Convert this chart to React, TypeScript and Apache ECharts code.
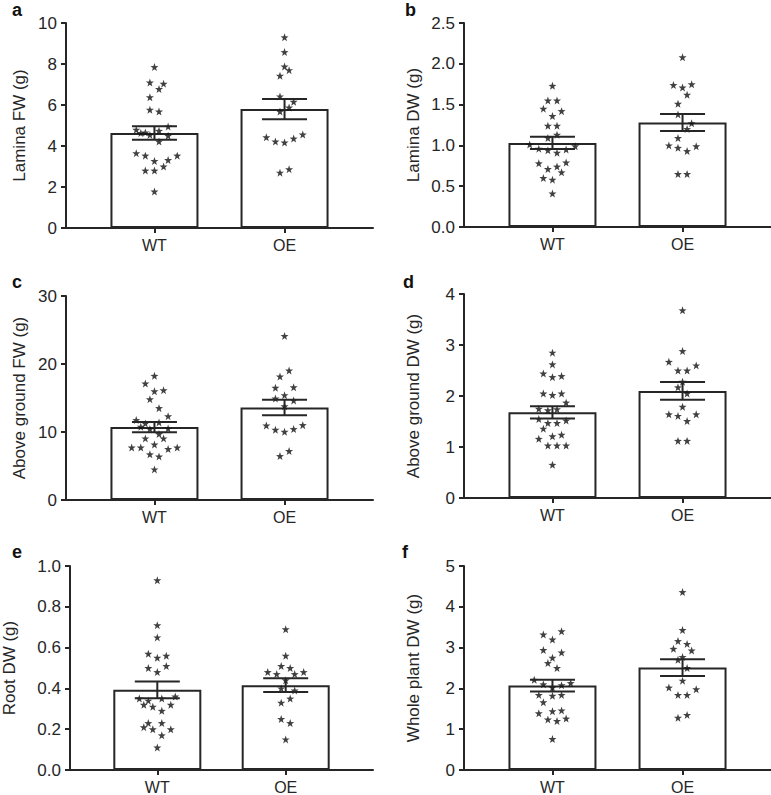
import React, { useEffect, useRef } from "react";
import * as echarts from "echarts";

const groups = ["WT", "OE"];

// Panel a: Lamina FW (g)
const aMean = [4.63, 5.8];
const aSem = [0.33, 0.49];
const aWT = [7.85, 7.1, 7.04, 6.78, 6.38, 5.77, 5.68, 4.79, 4.63, 4.66, 4.54, 4.74, 4.95, 4.5, 4.22, 3.65, 3.53, 3.27, 3.32, 3.53, 2.8, 2.8, 3.0, 1.78];
const aWTx = [0, -0.035, 0.07, 0.035, -0.035, -0.035, 0.035, -0.14, -0.105, -0.07, -0.035, 0.035, 0.105, 0.105, 0.035, -0.14, -0.07, 0, 0.105, 0.175, -0.07, 0, 0.07, 0];
const aOE = [9.3, 8.58, 7.88, 7.43, 7.7, 6.42, 6.16, 5.68, 5.88, 4.43, 4.22, 4.17, 4.36, 4.56, 2.7, 2.87];
const aOEx = [0, 0, 0, -0.035, 0.035, -0.035, 0.07, -0.035, 0.035, -0.14, -0.07, 0, 0.07, 0.14, -0.035, 0.035];

// Panel b: Lamina DW (g)
const bMean = [1.03, 1.28];
const bSem = [0.075, 0.105];
const bWT = [1.73, 1.55, 1.55, 1.45, 1.42, 1.36, 1.24, 1.24, 1.09, 1.13, 1.01, 0.96, 0.94, 0.91, 0.95, 0.99, 0.78, 0.71, 0.74, 0.79, 0.67, 0.6, 0.58, 0.41];
const bWTx = [0, -0.035, 0.035, -0.07, 0.07, 0, -0.035, 0.035, -0.035, 0.035, -0.175, -0.105, -0.035, 0.035, 0.105, 0.175, -0.105, -0.035, 0.035, 0.105, 0.07, -0.07, 0, 0];
const bOE = [2.08, 1.74, 1.71, 1.75, 1.62, 1.51, 1.38, 1.27, 1.2, 1.09, 1.0, 0.97, 0.93, 0.99, 0.65, 0.65];
const bOEx = [0, -0.07, 0, 0.07, 0.035, -0.035, -0.035, 0.07, 0.035, -0.035, -0.105, -0.035, 0.035, 0.105, -0.035, 0.035];

// Panel c: Above ground FW (g)
const cMean = [10.72, 13.61];
const cSem = [0.76, 1.15];
const cWT = [18.26, 17.13, 16.0, 16.15, 14.83, 13.51, 12.33, 11.75, 11.26, 10.77, 10.43, 11.41, 10.52, 9.69, 9.06, 9.06, 7.73, 7.73, 8.17, 7.49, 7.73, 6.71, 6.41, 4.5];
const cWTx = [0, -0.07, 0, 0.07, -0.035, 0.035, 0.105, -0.14, -0.07, -0.105, -0.035, 0.035, 0.105, 0.035, -0.07, 0.07, -0.175, -0.105, 0, 0.105, 0.175, -0.035, 0.035, 0];
const cOE = [24.13, 18.16, 19.04, 16.5, 16.59, 15.42, 14.93, 14.64, 13.8, 10.96, 10.33, 10.03, 10.43, 11.01, 6.46, 7.2];
const cOEx = [0, -0.035, 0.035, -0.07, 0.07, 0, -0.07, 0.07, 0, -0.14, -0.07, 0, 0.07, 0.14, -0.035, 0.035];

// Panel d: Above ground DW (g)
const dMean = [1.68, 2.1];
const dSem = [0.12, 0.175];
const dWT = [2.85, 2.62, 2.44, 2.37, 2.39, 2.05, 2.02, 2.05, 1.87, 1.75, 1.72, 1.74, 1.55, 1.47, 1.47, 1.52, 1.36, 1.16, 1.21, 1.24, 1.03, 1.03, 1.03, 0.65];
const dWTx = [0, 0, -0.07, 0, 0.07, -0.07, 0, 0.07, 0.105, -0.105, -0.035, 0.035, -0.105, -0.035, 0.035, 0.105, -0.07, -0.105, 0, 0.07, -0.035, 0.035, 0.105, 0];
const dOE = [3.68, 2.88, 2.67, 2.5, 2.5, 2.6, 2.28, 2.17, 2.05, 1.79, 1.64, 1.61, 1.51, 1.64, 1.12, 1.12];
const dOEx = [0, 0, -0.105, -0.035, 0.035, 0.105, 0, -0.035, 0.035, 0, -0.105, -0.035, 0.035, 0.105, -0.035, 0.035];

// Panel e: Root DW (g)
const eMean = [0.393, 0.416];
const eSem = [0.041, 0.034];
const eWT = [0.93, 0.71, 0.65, 0.57, 0.55, 0.56, 0.5, 0.48, 0.51, 0.35, 0.34, 0.32, 0.31, 0.35, 0.36, 0.32, 0.29, 0.23, 0.21, 0.2, 0.23, 0.2, 0.17, 0.11];
const eWTx = [0, 0, 0, -0.07, 0, 0.07, -0.07, 0, 0.07, -0.14, -0.07, -0.105, -0.035, 0.035, 0.14, 0.105, 0.035, -0.07, -0.105, -0.035, 0.035, 0.105, 0.035, 0];
const eOE = [0.69, 0.56, 0.51, 0.5, 0.48, 0.47, 0.47, 0.48, 0.44, 0.4, 0.39, 0.33, 0.35, 0.25, 0.23, 0.15];
const eOEx = [0, 0, -0.035, 0.035, -0.14, -0.07, 0.07, 0.14, 0, -0.035, 0.07, -0.035, 0.035, -0.035, 0.035, 0];

// Panel f: Whole plant DW (g)
const fMean = [2.07, 2.51];
const fSem = [0.145, 0.205];
const fWT = [3.32, 3.4, 3.2, 2.94, 2.88, 2.75, 2.62, 2.5, 2.21, 2.1, 2.02, 2.08, 2.13, 1.84, 1.82, 1.84, 1.66, 1.39, 1.44, 1.46, 1.24, 1.2, 1.26, 0.76];
const fWTx = [-0.07, 0.07, 0, -0.07, 0.07, 0, -0.035, 0.035, -0.14, -0.07, 0, 0.07, 0.14, -0.105, 0, 0.07, -0.07, -0.105, 0, 0.07, -0.035, 0.035, 0.105, 0];
const fOE = [4.36, 3.43, 3.16, 3.09, 2.97, 2.93, 2.77, 2.7, 2.5, 2.19, 2.02, 1.84, 1.84, 1.98, 1.28, 1.35];
const fOEx = [0, 0, -0.035, 0.035, -0.07, 0.07, 0, -0.035, 0.035, 0, -0.105, -0.035, 0.035, 0.105, -0.035, 0.035];

const panels = [
  { letter: "a", name: "Lamina FW (g)", max: 10, interval: 2, dec: 0, mean: aMean, sem: aSem, wt: aWT, wtx: aWTx, oe: aOE, oex: aOEx, left: 66, top: 23, h: 205, lx: 12, ly: 1, gap: 38 },
  { letter: "b", name: "Lamina DW (g)", max: 2.5, interval: 0.5, dec: 1, mean: bMean, sem: bSem, wt: bWT, wtx: bWTx, oe: bOE, oex: bOEx, left: 464, top: 23, h: 204, lx: 405, ly: 1, gap: 42 },
  { letter: "c", name: "Above ground FW (g)", max: 30, interval: 10, dec: 0, mean: cMean, sem: cSem, wt: cWT, wtx: cWTx, oe: cOE, oex: cOEx, left: 66, top: 296, h: 204, lx: 12, ly: 273, gap: 38 },
  { letter: "d", name: "Above ground DW (g)", max: 4, interval: 1, dec: 0, mean: dMean, sem: dSem, wt: dWT, wtx: dWTx, oe: dOE, oex: dOEx, left: 464, top: 294, h: 204, lx: 403, ly: 273, gap: 42 },
  { letter: "e", name: "Root DW (g)", max: 1.0, interval: 0.2, dec: 1, mean: eMean, sem: eSem, wt: eWT, wtx: eWTx, oe: eOE, oex: eOEx, left: 66, top: 566, h: 204, lx: 12, ly: 543, gap: 52 },
  { letter: "f", name: "Whole plant DW (g)", max: 5, interval: 1, dec: 0, mean: fMean, sem: fSem, wt: fWT, wtx: fWTx, oe: fOE, oex: fOEx, left: 464, top: 566, h: 204, lx: 402, ly: 543, gap: 42 },
];

const STAR = "path://M0,-10 L2.35,-3.24 L9.51,-3.09 L3.8,1.24 L5.88,8.09 L0,4 L-5.88,8.09 L-3.8,1.24 L-9.51,-3.09 L-2.35,-3.24 Z";
const INK = "#262626";
const FONT = "Liberation Sans";

export default function App() {
  const ref = useRef<HTMLDivElement>(null);
  useEffect(() => {
    if (!ref.current) return;
    const chart = echarts.init(ref.current, null, { renderer: "svg" });
    const grid: any[] = [];
    const xAxis: any[] = [];
    const yAxis: any[] = [];
    const series: any[] = [];
    const graphic: any[] = [];
    panels.forEach((p, i) => {
      grid.push({ left: p.left, top: p.top, width: 307, height: p.h });
      xAxis.push({
        type: "value", gridIndex: i, min: -0.68, max: 1.68,
        splitLine: { show: false },
        axisLine: { show: true, onZero: false, lineStyle: { color: INK, width: 2 } },
        axisTick: { show: true, customValues: [0, 1], length: 5, lineStyle: { color: INK, width: 2 } },
        axisLabel: { customValues: [0, 1], formatter: (v: number) => groups[Math.round(v)], margin: 9, fontSize: 16, color: INK, fontFamily: FONT },
      });
      yAxis.push({
        type: "value", gridIndex: i, min: 0, max: p.max, interval: p.interval,
        splitLine: { show: false },
        axisLine: { show: true, onZero: false, lineStyle: { color: INK, width: 2 } },
        axisTick: { show: true, length: 5, lineStyle: { color: INK, width: 2 } },
        axisLabel: { formatter: (v: number) => v.toFixed(p.dec), margin: 9, fontSize: 17, color: INK, fontFamily: FONT },
        name: p.name, nameLocation: "middle", nameRotate: 90, nameGap: p.gap,
        nameTextStyle: { fontSize: 17, color: INK, fontFamily: FONT },
      });
      series.push({
        type: "bar", xAxisIndex: i, yAxisIndex: i, barWidth: 88, z: 2,
        itemStyle: { color: "#fff", borderColor: INK, borderWidth: 2 },
        data: p.mean.map((m, k) => [k, m]),
      });
      const pts: number[][] = [];
      p.wt.forEach((v, k) => pts.push([0 + p.wtx[k], v]));
      p.oe.forEach((v, k) => pts.push([1 + p.oex[k], v]));
      series.push({
        type: "scatter", xAxisIndex: i, yAxisIndex: i, z: 3,
        symbol: STAR, symbolSize: 8, itemStyle: { color: "#111" },
        data: pts,
      });
      series.push({
        type: "custom", xAxisIndex: i, yAxisIndex: i, z: 4,
        encode: { x: 0, y: [1, 2] },
        data: p.mean.map((m, k) => [k, m - p.sem[k], m + p.sem[k]]),
        renderItem: (params: any, api: any) => {
          const x = api.value(0);
          const lo = api.coord([x, api.value(1)]);
          const hi = api.coord([x, api.value(2)]);
          const hw = 22.5;
          const style = { stroke: INK, lineWidth: 2 };
          return {
            type: "group",
            children: [
              { type: "line", shape: { x1: lo[0], y1: lo[1], x2: hi[0], y2: hi[1] }, style },
              { type: "line", shape: { x1: lo[0] - hw, y1: lo[1], x2: lo[0] + hw, y2: lo[1] }, style },
              { type: "line", shape: { x1: hi[0] - hw, y1: hi[1], x2: hi[0] + hw, y2: hi[1] }, style },
            ],
          };
        },
      });
      graphic.push({
        type: "text", left: p.lx, top: p.ly,
        style: { text: p.letter, font: `bold 18px ${FONT}`, fill: "#111" },
      });
    });
    chart.setOption({ animation: false, grid, xAxis, yAxis, series, graphic });
    return () => chart.dispose();
  }, []);
  return <div ref={ref} style={{ position: "absolute", left: 0, top: 0, width: 771, height: 795, background: "#fff" }} />;
}
